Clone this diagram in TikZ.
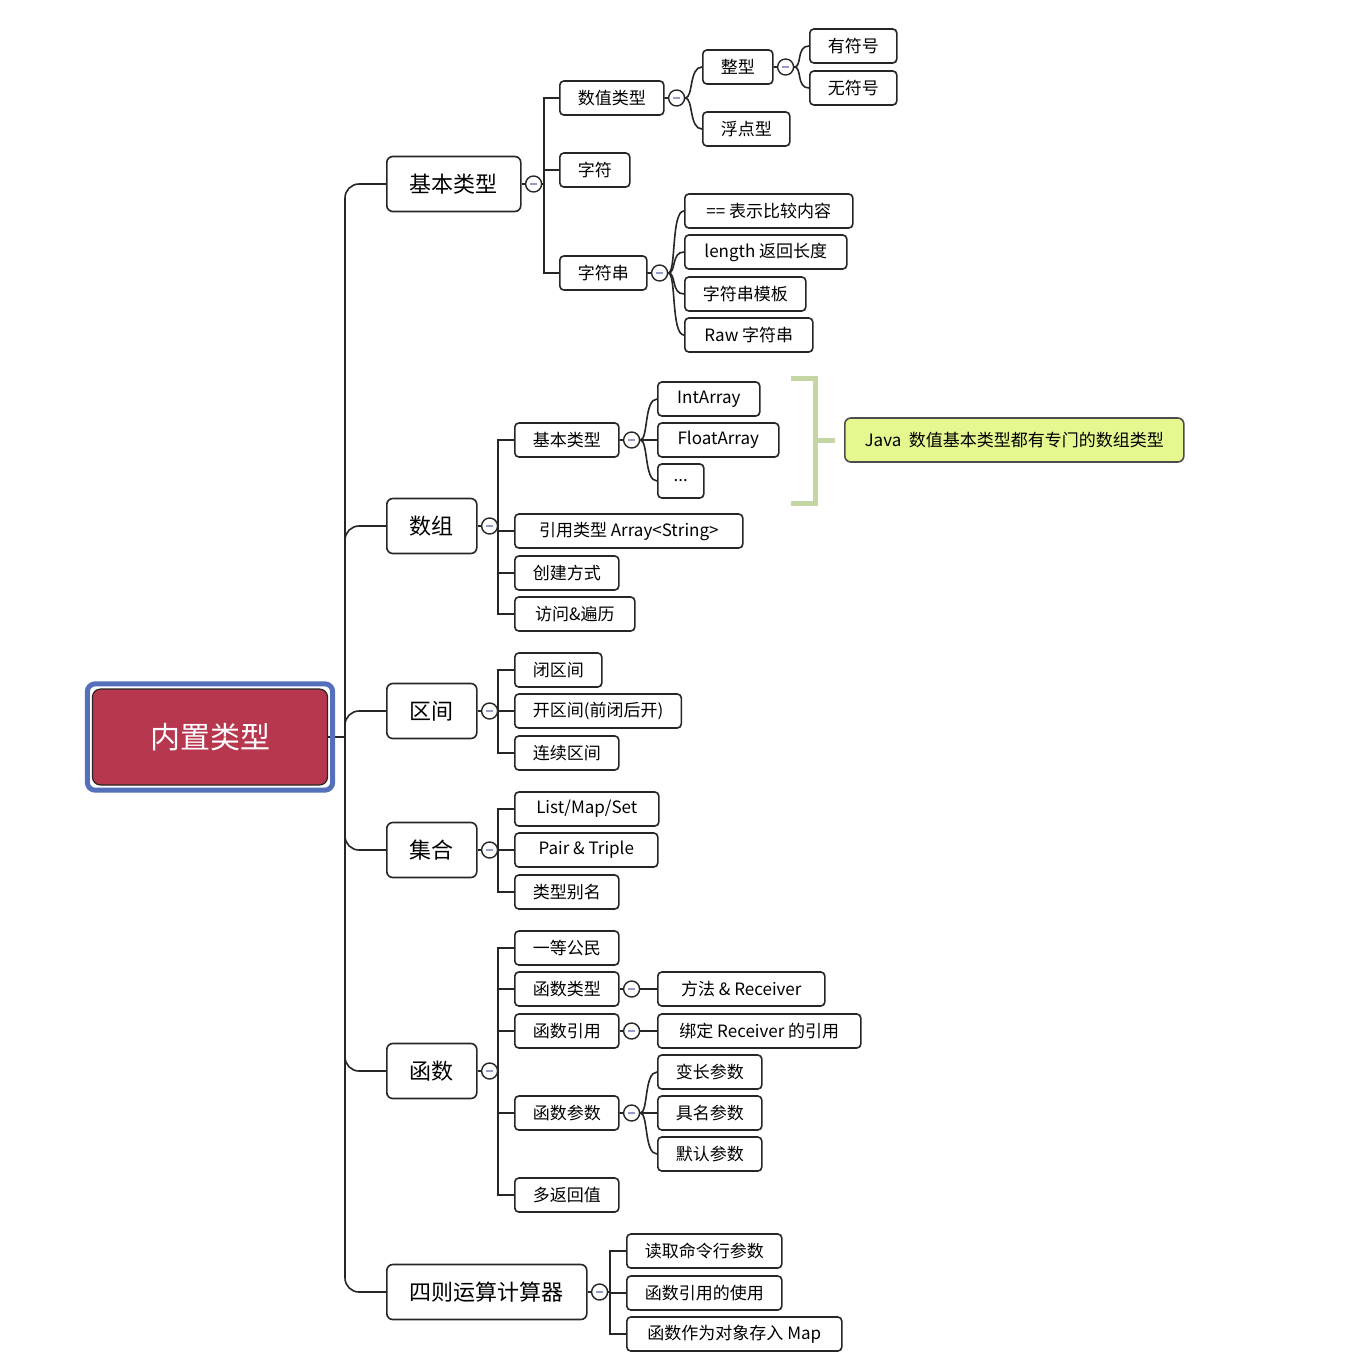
\documentclass[tikz,border=0pt]{standalone}
\usepackage{fontspec}
\setmainfont{Noto Sans CJK SC}
\usepackage{xcolor}
\usetikzlibrary{backgrounds}
\definecolor{rootred}{RGB}{183,55,79}
\definecolor{frameblue}{RGB}{84,112,186}
\definecolor{notefill}{RGB}{229,248,143}
\definecolor{bracegreen}{RGB}{196,214,163}
\definecolor{foldmark}{RGB}{150,155,200}
\tikzset{
	rootbox/.style={draw=black!85, fill=rootred, rounded corners=4pt, line width=0.6pt,
			minimum width=117.5pt, minimum height=48pt, text=white,
			font=\fontsize{15}{18}\selectfont},
	rootframe/.style={draw=frameblue, line width=2.5pt, rounded corners=4pt},
	topicbox/.style={draw=black!85, fill=white, rounded corners=3pt, line width=0.8pt,
			minimum height=27.5pt, inner xsep=11.5pt, anchor=west,
			font=\fontsize{11}{13}\selectfont},
	leafbox/.style={draw=black!85, fill=white, rounded corners=2pt, line width=0.8pt,
			minimum height=17pt, inner xsep=9pt, anchor=west,
			font=\fontsize{8.5}{10}\selectfont},
	notebox/.style={leafbox, fill=notefill, draw=black!70, rounded corners=3pt, minimum height=22pt},
	fold/.style={circle, draw=black!85, fill=white, line width=0.7pt, minimum size=8pt, inner sep=0pt,
			path picture={\draw[foldmark, line width=0.8pt]
					([xshift=-1.6pt]path picture bounding box.center) --
					([xshift=1.6pt]path picture bounding box.center);}},
	link/.style={draw=black!85, line width=0.8pt},
	curvy/.style={link, to path={.. controls +(8,0) and +(-13,0) .. (\tikztotarget)}},
	bracket/.style={draw=bracegreen, line width=2.5pt}
}

\begin{document}
\begin{tikzpicture}[x=0.5pt,y=-0.5pt]
    \useasboundingbox (0,0) rectangle (1368,1360);
    % root
    \node[rootbox] (r) at (210,737) {内置类型};
    \draw[rootframe] ([shift={(-2.3pt,2.3pt)}]r.north west) rectangle ([shift={(2.3pt,-2.3pt)}]r.south east);
    % main topics
    \node[topicbox] (t1) at (386,184) {基本类型};
    \node[topicbox] (t2) at (386,526) {数组};
    \node[topicbox] (t3) at (386,711) {区间};
    \node[topicbox] (t4) at (386,850) {集合};
    \node[topicbox] (t5) at (386,1071) {函数};
    \node[topicbox] (t6) at (386,1292) {四则运算计算器};
    % 基本类型
    \node[leafbox] (t11) at (559,98) {数值类型};
    \node[leafbox] (t111) at (702,67) {整型};
    \node[leafbox] (t1111) at (809,46) {有符号};
    \node[leafbox] (t1112) at (809,88) {无符号};
    \node[leafbox] (t112) at (702,129) {浮点型};
    \node[leafbox] (t12) at (559,170) {字符};
    \node[leafbox] (t13) at (559,273) {字符串};
    \node[leafbox,minimum width=84pt] (t131) at (684,211) {== 表示比较内容};
    \node[leafbox,minimum width=81pt] (t132) at (684,252) {length 返回长度};
    \node[leafbox] (t133) at (684,294) {字符串模板};
    \node[leafbox,minimum width=64pt] (t134) at (684,335) {Raw 字符串};
    % 数组
    \node[leafbox] (t21) at (514,440) {基本类型};
    \node[leafbox,minimum width=51pt] (t211) at (657,399) {IntArray};
    \node[leafbox,minimum width=60.5pt] (t212) at (657,440) {FloatArray};
    \node[leafbox,minimum width=23pt,inner xsep=5pt] (t213) at (657,481) {...};
    \node[leafbox,minimum width=114pt] (t22) at (514,531) {引用类型 Array<String>};
    \node[leafbox] (t23) at (514,573) {创建方式};
    \node[leafbox,minimum width=60pt] (t24) at (514,614) {访问\&遍历};
    \node[notebox,minimum width=169.5pt] (nt) at (844,440) {Java~~数值基本类型都有专门的数组类型};
    % 区间
    \node[leafbox] (t31) at (514,670) {闭区间};
    \node[leafbox,minimum width=83pt] (t32) at (514,711) {开区间(前闭后开)};
    \node[leafbox] (t33) at (514,753) {连续区间};
    % 集合
    \node[leafbox,minimum width=72pt] (t41) at (514,809) {List/Map/Set};
    \node[leafbox,minimum width=71.5pt] (t42) at (514,850) {Pair \& Triple};
    \node[leafbox] (t43) at (514,892) {类型别名};
    % 函数
    \node[leafbox] (t51) at (514,948) {一等公民};
    \node[leafbox] (t52) at (514,989) {函数类型};
    \node[leafbox,minimum width=83.5pt] (t521) at (657,989) {方法 \& Receiver};
    \node[leafbox] (t53) at (514,1031) {函数引用};
    \node[leafbox,minimum width=101.5pt] (t531) at (657,1031) {绑定 Receiver 的引用};
    \node[leafbox] (t54) at (514,1113) {函数参数};
    \node[leafbox] (t541) at (657,1072) {变长参数};
    \node[leafbox] (t542) at (657,1113) {具名参数};
    \node[leafbox] (t543) at (657,1154) {默认参数};
    \node[leafbox] (t55) at (514,1195) {多返回值};
    % 四则运算计算器
    \node[leafbox] (t61) at (626,1251) {读取命令行参数};
    \node[leafbox] (t62) at (626,1293) {函数引用的使用};
    \node[leafbox,minimum width=107.5pt] (t63) at (626,1334) {函数作为对象存入 Map};
    % fold marks
    \foreach \n in {t1,t11,t111,t13,t2,t21,t3,t4,t5,t52,t53,t54,t6}
    \node[fold] (o\n) at ([xshift=6pt]\n.east) {};
    % summary bracket
    \coordinate (k1) at (791,378);
    \coordinate (k2) at (791,503);
    \coordinate (km) at (815,440);
    \draw[bracket] (k1) -| (km) |- (k2);
    \draw[bracket] (km) -- ([xshift=-4.5pt]nt.west);
    % connectors
    \begin{pgfonlayer}{background}
        \fill[white] (0,0) rectangle (1368,1360);
        \coordinate (j0) at (345,737);
        \coordinate (j1) at (544,184);
        \coordinate (j2) at (498,526);
        \coordinate (j3) at (498,711);
        \coordinate (j4) at (498,850);
        \coordinate (j5) at (498,1071);
        \coordinate (j6) at (610,1292);
        \draw[link] (r.east) -- (j0);
        \foreach \n in {t1,t2,t3,t4,t5,t6}
        \draw[link,rounded corners=7pt] (j0) |- (\n.west);
        \foreach \c in {t11,t12,t13}
        \draw[link] (t1.east) -- (j1) |- (\c.west);
        \foreach \c in {t111,t112}
        \draw[curvy] (t11.east) -- (ot11.east) to (\c.west);
        \foreach \c in {t1111,t1112}
        \draw[curvy] (t111.east) -- (ot111.east) to (\c.west);
        \foreach \c in {t131,t132,t133,t134}
        \draw[curvy] (t13.east) -- (ot13.east) to (\c.west);
        \foreach \c in {t21,t22,t23,t24}
        \draw[link] (t2.east) -- (j2) |- (\c.west);
        \foreach \c in {t211,t212,t213}
        \draw[curvy] (t21.east) -- (ot21.east) to (\c.west);
        \foreach \c in {t31,t32,t33}
        \draw[link] (t3.east) -- (j3) |- (\c.west);
        \foreach \c in {t41,t42,t43}
        \draw[link] (t4.east) -- (j4) |- (\c.west);
        \foreach \c in {t51,t52,t53,t54,t55}
        \draw[link] (t5.east) -- (j5) |- (\c.west);
        \draw[link] (t52.east) -- (t521.west);
        \draw[link] (t53.east) -- (t531.west);
        \foreach \c in {t541,t542,t543}
        \draw[curvy] (t54.east) -- (ot54.east) to (\c.west);
        \foreach \c in {t61,t62,t63}
        \draw[link] (t6.east) -- (j6) |- (\c.west);
    \end{pgfonlayer}
\end{tikzpicture}
\end{document}
